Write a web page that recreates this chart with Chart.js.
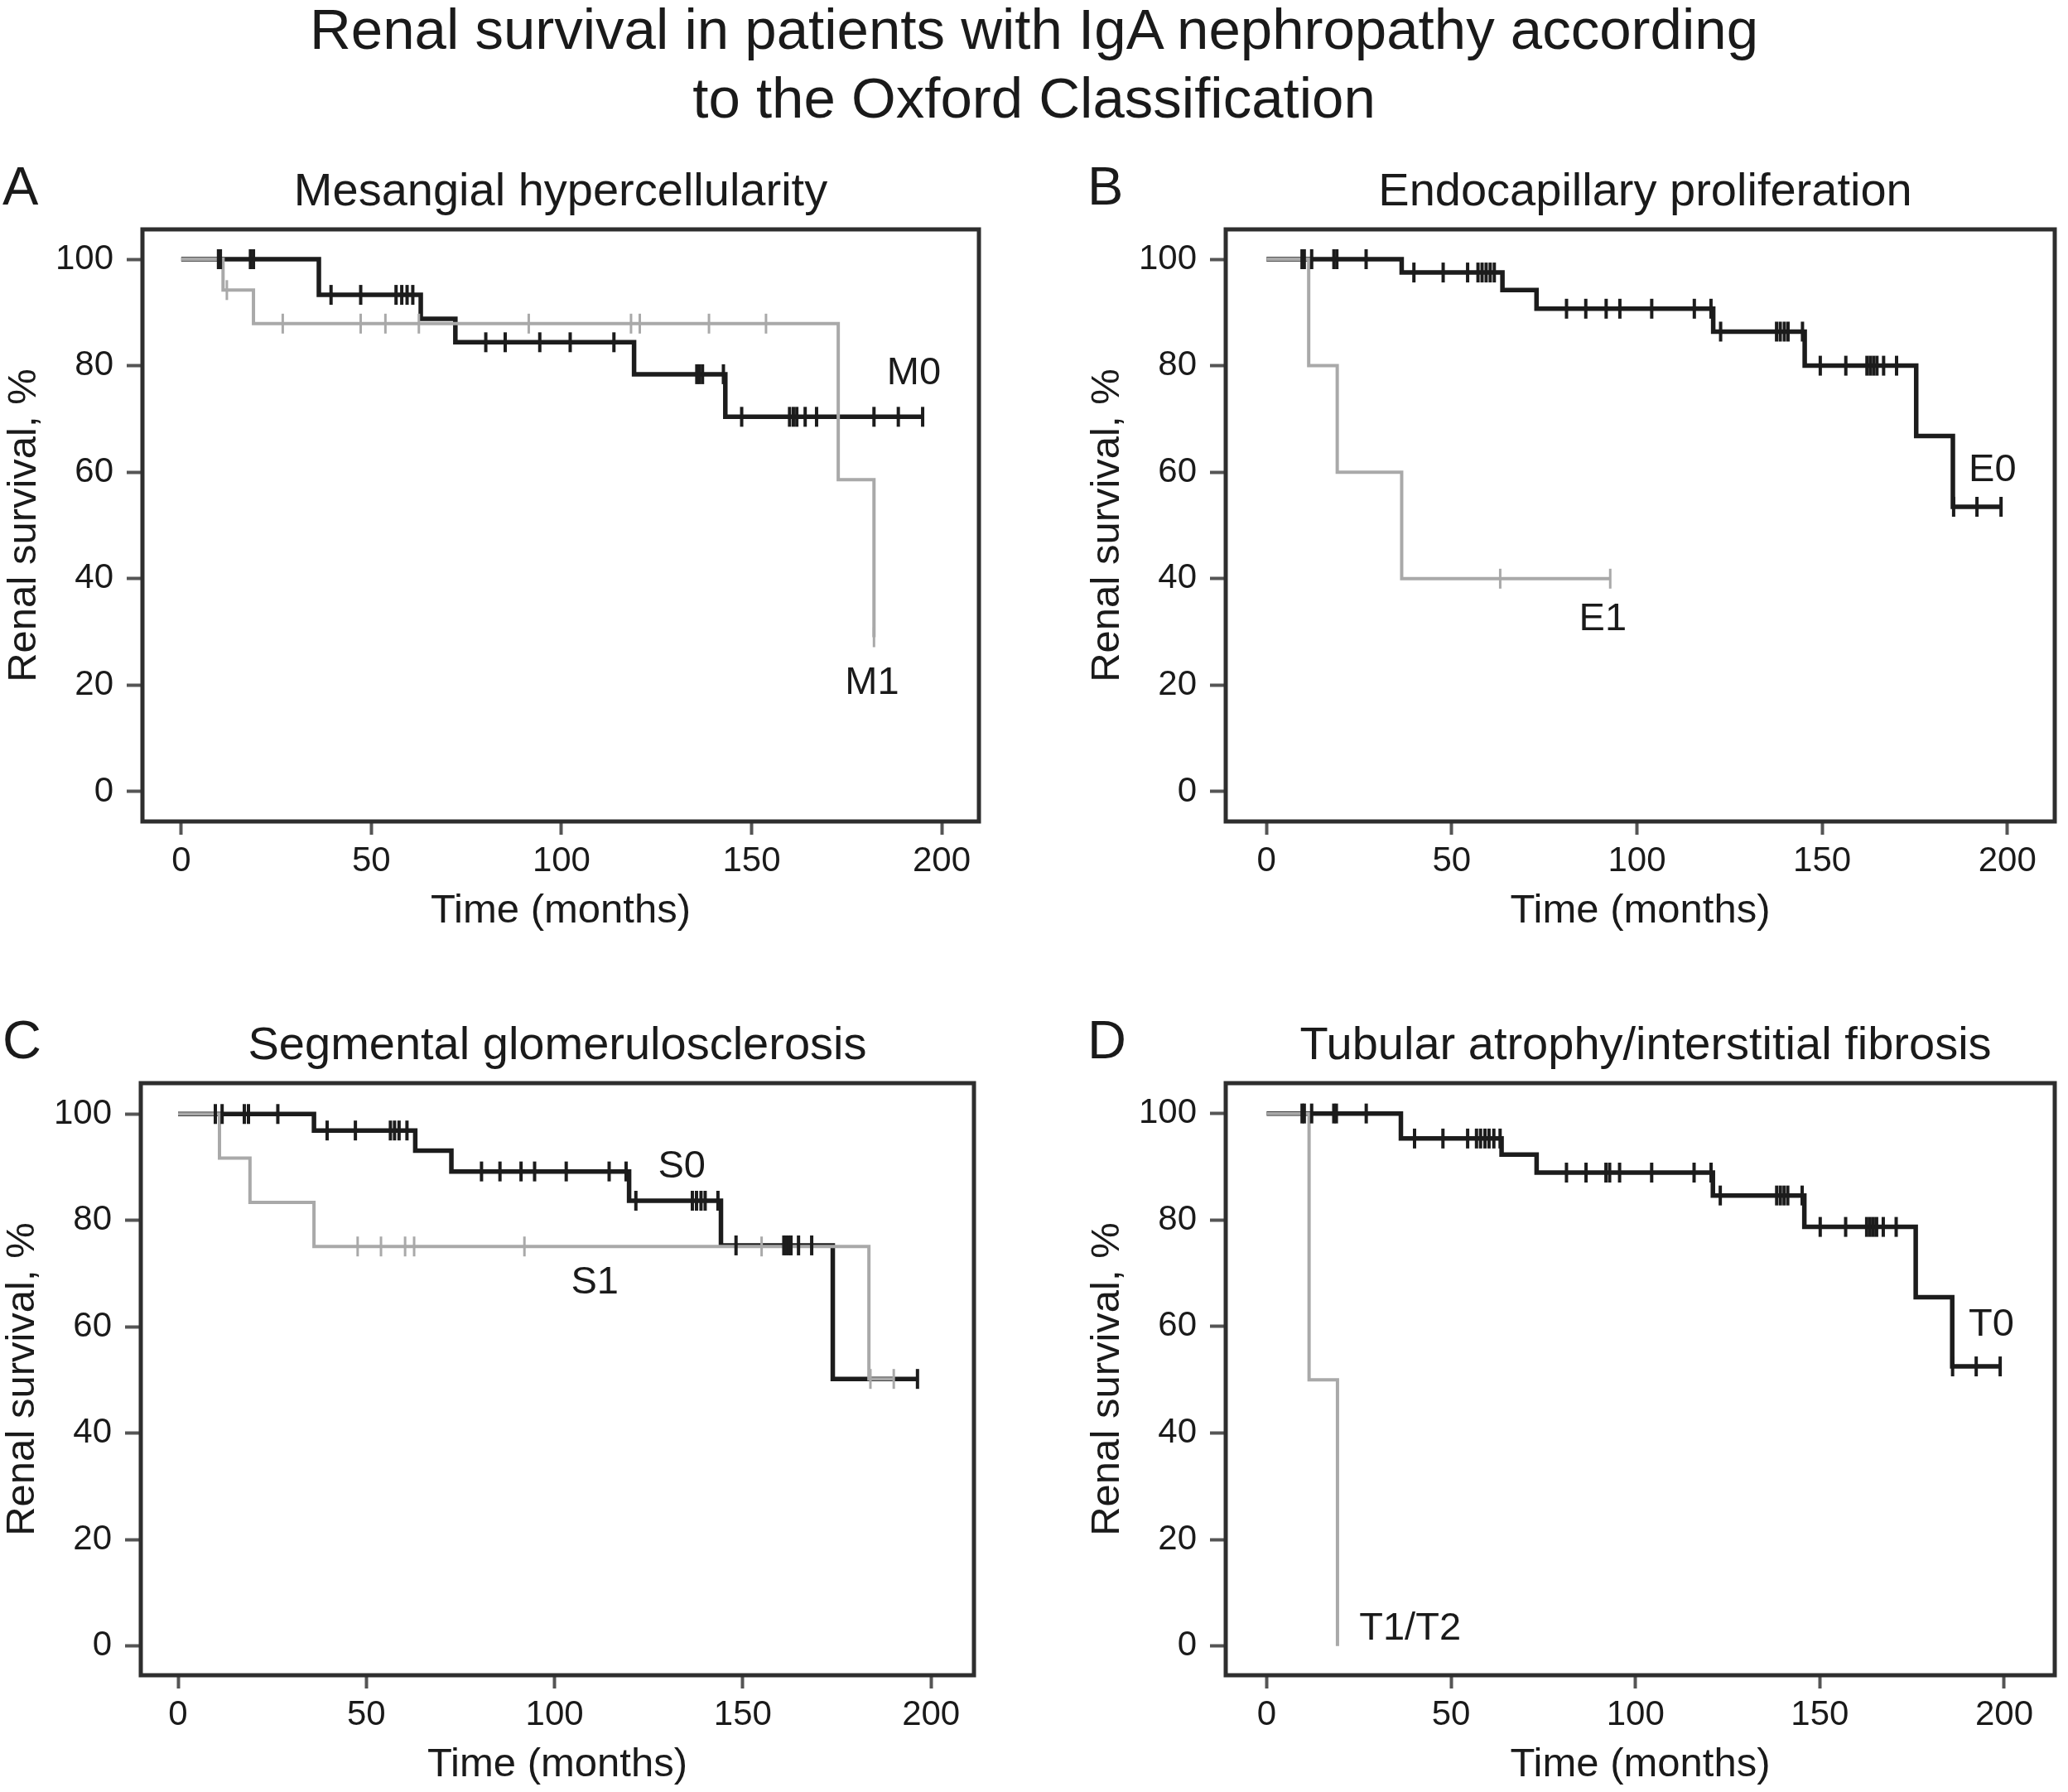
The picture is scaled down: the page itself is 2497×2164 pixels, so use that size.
<!DOCTYPE html>
<html lang="en">
<head>
<meta charset="UTF-8">
<title>Renal survival - Oxford Classification</title>
<script src="https://cdn.jsdelivr.net/npm/chart.js@4.4.0/dist/chart.umd.min.js"></script>
<style>
    html, body { margin: 0; padding: 0; background: #fff; overflow: hidden; }
    body { width: 2497px; height: 2164px; position: relative; font-family: "Liberation Sans", Arial, sans-serif; color: #1a1a1a; }
    #title { position: absolute; left: 0; top: -6px; width: 2497px; text-align: center; font-size: 69px; line-height: 83px; }
    .ptitle { position: absolute; width: 1200px; text-align: center; font-size: 56px; line-height: 56px; white-space: nowrap; }
    .letter { position: absolute; font-size: 65px; line-height: 65px; }
    canvas { position: absolute; }
</style>
</head>
<body>
<div id="title">Renal survival in patients with IgA nephropathy according<br>to the Oxford Classification</div>

<script>
// ---- data (time in months, survival in %) ----
var xTicks = [0, 50, 100, 150, 200];
var yTicks = [0, 20, 40, 60, 80, 100];

// A - mesangial hypercellularity
var m0Time = [0, 36.2, 63.0, 72.1, 119.1, 143.1, 195.0];
var m0Surv = [100, 93.3, 88.8, 84.4, 78.4, 70.4, 70.4];
var m0Cens = [9.8, 10.3, 18.2, 19.0, 39.4, 47.2, 56.5, 58.0, 59.4, 60.9, 80.1, 85.2, 94.3, 102.3, 113.8,
              135.6, 136.3, 137.1, 142.6, 147.4, 160.0, 161.0, 161.9, 164.1, 167.1, 182.2, 188.6, 195.0];
var m1Time = [0, 11.0, 19.0, 172.8, 182.2];
var m1Surv = [100, 94.2, 87.9, 58.6, 29.0];
var m1Cens = [12.0, 26.7, 47.2, 53.7, 62.5, 91.4, 118.3, 120.6, 138.8, 153.8, 182.2];

// B - endocapillary proliferation
var e0Time = [0, 36.5, 63.7, 72.9, 120.6, 145.3, 175.4, 185.3, 198.3];
var e0Surv = [100, 97.5, 94.2, 90.7, 86.4, 80.0, 66.8, 53.5, 53.5];
var e0Cens = [9.6, 10.2, 12.2, 18.2, 19.0, 26.9, 39.8, 47.7, 54.3, 57.1, 58.2, 59.3, 60.4, 61.5, 81.0, 86.2,
              91.7, 95.4, 104.0, 115.5, 120.0, 122.6, 137.7, 138.7, 139.8, 140.8, 144.7, 149.5, 156.4,
              162.1, 163.0, 163.9, 164.8, 166.6, 170.1, 185.5, 191.8, 198.3];
var e1Time = [0, 11.4, 19.1, 36.5, 92.8];
var e1Surv = [100, 80, 60, 40, 40];
var e1Cens = [63.1, 92.8];

// C - segmental glomerulosclerosis
var s0Time = [0, 36.1, 63.0, 72.6, 119.8, 144.2, 173.9, 196.4];
var s0Surv = [100, 96.9, 93.1, 89.2, 83.7, 75.3, 50.2, 50.2];
var s0Cens = [9.9, 11.7, 17.6, 18.7, 26.5, 39.6, 47.1, 56.4, 57.5, 58.7, 60.8, 80.6, 85.5, 91.1, 94.7,
              103.1, 114.5, 119.0, 121.6, 136.6, 137.7, 138.9, 140.0, 143.4, 148.2, 160.9, 161.5, 162.2,
              162.8, 164.8, 168.3, 196.4];
var s1Time = [0, 11.0, 19.1, 36.1, 183.5, 190.1];
var s1Surv = [100, 91.7, 83.4, 75.1, 50.2, 50.2];
var s1Cens = [47.7, 53.9, 60.3, 62.7, 92.0, 155.0, 183.9, 190.1];

// D - tubular atrophy / interstitial fibrosis
var t0Time = [0, 36.4, 63.7, 73.2, 121.0, 145.8, 176.0, 185.9, 198.9];
var t0Surv = [100, 95.3, 92.3, 88.9, 84.6, 78.7, 65.5, 52.5, 52.5];
var t0Cens = [9.6, 10.2, 12.2, 18.2, 18.9, 27.0, 40.1, 47.8, 54.5, 56.9, 58.0, 59.2, 60.3, 61.6, 63.3,
              81.3, 86.6, 92.0, 93.0, 95.7, 104.4, 115.9, 120.5, 123.0, 138.3, 139.3, 140.3, 141.3, 145.2,
              150.1, 157.0, 162.7, 163.6, 164.5, 165.4, 167.2, 170.7, 186.0, 192.4, 198.9];
var t1Time = [0, 11.5, 19.2];
var t1Surv = [100, 50, 0];
var t1Cens = [];

// ---- layout (page pixels) ----
var panels = [
    { letter: 'A', title: 'Mesangial hypercellularity', box: [172, 277, 1182, 992], xr: [-10.2, 209.8], yr: [-5.6, 105.6],
      dark: [m0Time, m0Surv, m0Cens], light: [m1Time, m1Surv, m1Cens],
      labels: [{ text: 'M0', x: 192.7, y: 78.5 }, { text: 'M1', x: 181.7, y: 20.3 }] },
    { letter: 'B', title: 'Endocapillary proliferation', box: [1480, 277, 2493, 992], xr: [-11.0, 212.8], yr: [-5.6, 105.6],
      dark: [e0Time, e0Surv, e0Cens], light: [e1Time, e1Surv, e1Cens],
      labels: [{ text: 'E0', x: 196.0, y: 60.4 }, { text: 'E1', x: 90.8, y: 32.4 }] },
    { letter: 'C', title: 'Segmental glomerulosclerosis', box: [170, 1308, 1176, 2023], xr: [-9.9, 211.4], yr: [-5.5, 105.8],
      dark: [s0Time, s0Surv, s0Cens], light: [s1Time, s1Surv, s1Cens],
      labels: [{ text: 'S0', x: 133.8, y: 90.1 }, { text: 'S1', x: 110.7, y: 68.2 }] },
    { letter: 'D', title: 'Tubular atrophy/interstitial fibrosis', box: [1480, 1308, 2494, 2023], xr: [-11.1, 213.7], yr: [-5.5, 105.7],
      dark: [t0Time, t0Surv, t0Cens], light: [t1Time, t1Surv, t1Cens],
      labels: [{ text: 'T0', x: 196.5, y: 60.3 }, { text: 'T1/T2', x: 38.9, y: 3.2 }] }
];

var DARK = '#1c1c1c';
var LIGHT = '#a9a9a9';
var FONT = '"Liberation Sans", Arial, sans-serif';
var Y_AXIS_W = 172, X_AXIS_H = 142, PAD_TOP = 20;

Chart.defaults.font.family = FONT;
Chart.defaults.color = '#1a1a1a';

// survival of a step curve at time t
function survAt(times, surv, t) {
    var v = surv[0];
    for (var i = 0; i < times.length; i++) {
        if (times[i] <= t) v = surv[i];
    }
    return v;
}

var framePlugin = {
    id: 'frame',
    beforeDatasetsDraw: function (chart) {
        var a = chart.chartArea, ctx = chart.ctx;
        ctx.save();
        ctx.strokeStyle = '#2e2e2e';
        ctx.lineWidth = 5;
        ctx.strokeRect(a.left, a.top, a.right - a.left, a.bottom - a.top);
        ctx.restore();
    }
};

var curveLabelPlugin = {
    id: 'curveLabels',
    afterDatasetsDraw: function (chart, args, opts) {
        var ctx = chart.ctx, xs = chart.scales.x, ys = chart.scales.y;
        ctx.save();
        ctx.font = '47px ' + FONT;
        ctx.fillStyle = '#1a1a1a';
        ctx.textAlign = 'center';
        ctx.textBaseline = 'middle';
        (opts.items || []).forEach(function (l) {
            ctx.fillText(l.text, xs.getPixelForValue(l.x), ys.getPixelForValue(l.y));
        });
        ctx.restore();
    }
};

function curveSet(c, color, width, order) {
    return {
        data: c[0].map(function (t, i) { return { x: t, y: c[1][i] }; }),
        borderColor: color, borderWidth: width, stepped: true,
        pointRadius: 0, fill: false, order: order
    };
}

function censorSet(c, color, width, order) {
    return {
        data: c[2].map(function (t) { return { x: t, y: survAt(c[0], c[1], t) }; }),
        showLine: false, pointStyle: 'line', pointRotation: 90, pointRadius: 12,
        pointBorderWidth: width, pointBorderColor: color, borderColor: color, order: order
    };
}

function addText(cls, text, left, top) {
    var d = document.createElement('div');
    d.className = cls;
    d.textContent = text;
    d.style.left = left + 'px';
    d.style.top = top + 'px';
    document.body.appendChild(d);
}

panels.forEach(function (p) {
    var L = p.box[0], T = p.box[1], R = p.box[2], B = p.box[3];
    var padRight = Math.min(20, 2497 - R);

    addText('ptitle', p.title, (L + R) / 2 - 600, T - 29 - 47.4);
    addText('letter', p.letter, L < 1000 ? 3 : 1313, T - 30 - 55);

    var cv = document.createElement('canvas');
    var w = Y_AXIS_W + (R - L) + padRight, h = PAD_TOP + (B - T) + X_AXIS_H;
    cv.width = w; cv.height = h;
    cv.style.left = (L - Y_AXIS_W) + 'px';
    cv.style.top = (T - PAD_TOP) + 'px';
    cv.style.width = w + 'px'; cv.style.height = h + 'px';
    document.body.appendChild(cv);

    new Chart(cv.getContext('2d'), {
        type: 'line',
        data: {
            datasets: [
                censorSet(p.dark, DARK, 4, 0),
                censorSet(p.light, LIGHT, 3, 1),
                curveSet(p.light, LIGHT, 4, 2),
                curveSet(p.dark, DARK, 5.5, 3)
            ]
        },
        options: {
            responsive: false,
            animation: false,
            events: [],
            layout: { padding: { top: PAD_TOP, right: padRight, left: 0, bottom: 0 } },
            plugins: {
                legend: { display: false },
                tooltip: { enabled: false },
                curveLabels: { items: p.labels }
            },
            scales: {
                x: {
                    type: 'linear', min: p.xr[0], max: p.xr[1],
                    afterBuildTicks: function (s) { s.ticks = xTicks.map(function (v) { return { value: v }; }); },
                    afterFit: function (s) { s.height = X_AXIS_H; s.paddingLeft = 0; s.paddingRight = 0; },
                    border: { display: false },
                    grid: { drawOnChartArea: false, drawTicks: true, tickLength: 16, tickWidth: 4, tickColor: '#555' },
                    ticks: { padding: 7, color: '#1a1a1a', font: { size: 42 }, maxRotation: 0 },
                    title: { display: true, text: 'Time (months)', color: '#1a1a1a', font: { size: 49 }, padding: { top: 0, bottom: 4 } }
                },
                y: {
                    type: 'linear', min: p.yr[0], max: p.yr[1],
                    afterBuildTicks: function (s) { s.ticks = yTicks.map(function (v) { return { value: v }; }); },
                    afterFit: function (s) { s.width = Y_AXIS_W; s.paddingTop = 0; s.paddingBottom = 0; },
                    border: { display: false },
                    grid: { drawOnChartArea: false, drawTicks: true, tickLength: 19, tickWidth: 4, tickColor: '#555' },
                    ticks: { padding: 16, color: '#1a1a1a', font: { size: 42 } },
                    title: { display: true, text: 'Renal survival, %', color: '#1a1a1a', font: { size: 49 }, padding: { top: 0, bottom: 0 } }
                }
            }
        },
        plugins: [framePlugin, curveLabelPlugin]
    });
});
</script>
</body>
</html>
